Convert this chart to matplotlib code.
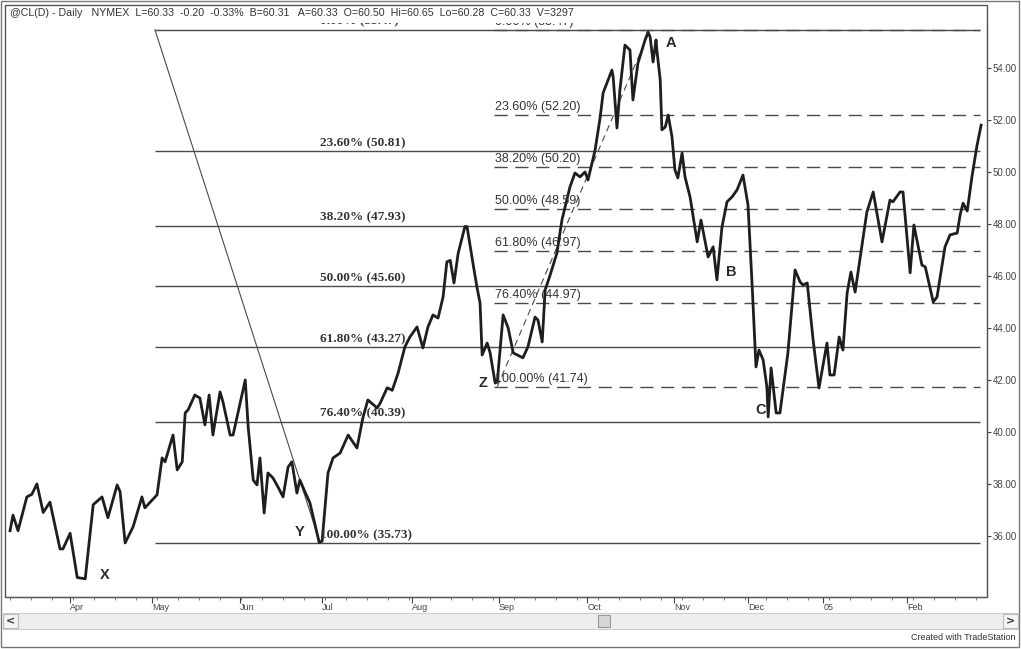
import matplotlib
matplotlib.use('Agg')
import matplotlib.pyplot as plt
from matplotlib.patches import Rectangle

# daily crude (bar index = trading day since mid March 2004)
bars = [0.0, 0.7, 1.9, 4.0, 5.2, 6.4, 7.9, 9.5, 11.9, 12.6, 14.3, 16.0, 17.9, 19.8,
        21.9, 23.3, 25.5, 26.2, 27.4, 29.3, 31.4, 32.1, 35.0, 36.2, 36.9, 38.8,
        39.8, 41.0, 41.7, 42.4, 44.0, 45.2, 46.4, 47.4, 48.3, 50.0, 50.7, 52.4,
        53.1, 56.0, 56.7, 57.9, 58.8, 59.5, 60.5, 61.4, 62.6, 63.8, 65.0, 66.2,
        67.1, 68.3, 69.0, 70.2, 71.4, 73.6, 74.3, 75.7, 76.9, 78.6, 80.5, 82.6,
        84.0, 85.2, 87.4, 88.1, 89.8, 91.0, 92.4, 94.0, 95.2, 96.9, 98.3, 99.5,
        100.7, 101.9, 103.1, 104.0, 104.8, 105.7, 106.7, 108.3, 108.8, 110.2,
        111.2, 111.9, 112.4, 113.6, 114.3, 115.5, 116.0, 117.4, 118.6, 119.8,
        122.1, 123.3, 125.0, 125.7, 126.7, 127.4, 128.6, 130.2, 131.4, 133.3,
        134.5, 135.7, 136.9, 137.6, 139.3, 140.5, 141.2, 143.3, 143.6, 144.5,
        145.2, 146.4, 147.6, 148.3, 149.5, 151.2, 151.9, 152.4, 153.1, 153.8,
        154.0, 154.8, 155.2, 156.0, 156.7, 157.6, 158.3, 159.0, 160.0, 160.7,
        161.9, 163.6, 164.5, 166.2, 167.4, 168.3, 169.5, 170.7, 171.9, 173.1,
        174.5, 175.7, 176.7, 177.6, 178.3, 179.3, 180.2, 180.5, 181.2, 181.7,
        182.4, 183.3, 185.2, 186.9, 188.1, 188.8, 189.8, 191.2, 192.6, 194.5,
        195.2, 196.2, 197.4, 198.3, 199.3, 200.2, 201.2, 204.0, 205.5, 207.6,
        209.5, 210.2, 211.9, 212.6, 214.3, 215.2, 217.1, 217.9, 219.8, 220.7,
        222.6, 223.8, 225.5, 226.2, 226.9, 227.9, 229.0, 230.2, 231.2]
closes = [36.2, 36.8, 36.2, 37.5, 37.6, 38.0, 36.9, 37.3, 35.5, 35.5, 36.1, 34.4, 34.35, 37.2,
          37.5, 36.7, 37.96, 37.7, 35.73, 36.35, 37.5, 37.08, 37.58, 39.0, 38.85, 39.88,
          38.54, 38.85, 40.73, 40.85, 41.42, 41.3, 40.27, 41.42, 39.88, 41.54, 41.15, 39.88,
          39.88, 42.0, 40.19, 38.15, 37.96, 39.0, 36.88, 38.42, 38.23, 37.88, 37.5, 38.65,
          38.85, 37.65, 38.15, 37.7, 37.27, 35.75, 35.8, 38.42, 39.0, 39.19, 39.88, 39.38,
          40.54, 41.23, 40.92, 41.1, 41.7, 41.6, 42.27, 43.27, 43.65, 44.04, 43.23, 44.04,
          44.5, 44.38, 45.19, 46.54, 46.6, 45.73, 46.88, 47.9, 47.9, 46.5,
          45.54, 44.96, 42.96, 43.42, 43.04, 41.88, 41.92, 44.5, 44.0, 43.04,
          42.85, 43.27, 44.42, 44.3, 43.46, 45.46, 46.04, 46.88, 48.15, 49.42,
          49.96, 49.81, 50.0, 49.69, 50.85, 52.1, 53.04, 53.92, 53.65, 51.69,
          53.15, 54.88, 54.69, 52.77, 54.19, 55.08, 55.38, 55.19, 54.23, 55.08,
          54.69, 53.54, 51.62, 51.73, 52.19, 51.35, 50.08, 49.77, 50.73, 49.81,
          49.04, 47.31, 48.15, 46.73, 47.12, 45.85, 47.88, 48.85, 49.04, 49.31,
          49.88, 48.73, 45.58, 42.5, 43.15, 42.77, 41.73, 40.58, 42.46, 41.73,
          40.73, 40.73, 43.04, 46.23, 45.77, 45.65, 45.73, 43.54, 41.69, 43.42,
          42.19, 42.19, 43.65, 43.15, 45.35, 46.15, 45.38, 48.46, 49.23, 47.31,
          48.92, 48.85, 49.23, 49.23, 46.12, 47.96, 46.42, 46.35, 45.0, 45.19,
          47.12, 47.58, 47.65, 48.35, 48.8, 48.5, 49.8, 51.0, 51.8]

month_names = ['Apr', 'May', 'Jun', 'Jul', 'Aug', 'Sep', 'Oct', 'Nov', 'Dec', '05', 'Feb']
month_bars = [14.3, 33.8, 54.8, 74.3, 95.7, 116.4, 137.4, 158.1, 175.7, 193.6, 213.6]

fib_pct = [0.0, 23.6, 38.2, 50.0, 61.8, 76.4, 100.0]
fib1_val = [55.47, 50.81, 47.93, 45.60, 43.27, 40.39, 35.73]   # Y swing
fib2_val = [55.47, 52.20, 50.20, 48.59, 46.97, 44.97, 41.74]   # Z -> A swing

wave_names = ['X', 'Y', 'Z', 'A', 'B', 'C']
wave_bars = [22.6, 69.0, 112.6, 157.4, 171.7, 178.6]
wave_vals = [34.5, 36.15, 41.88, 54.96, 46.15, 40.85]

header = ('@CL(D) - Daily   NYMEX  L=60.33  -0.20  -0.33%  B=60.31   A=60.33  O=60.50  '
          'Hi=60.65  Lo=60.28  C=60.33  V=3297')

W, H = 1021, 649


def fx(px):
    return px / W


def fy(py):
    return 1 - py / H


fig = plt.figure(figsize=(W / 100, H / 100), dpi=100)
ax = fig.add_axes([fx(5), fy(597), fx(987) - fx(5), fy(23) - fy(597)])
ax.set_xlim(-1.2, 232.6)
ax.set_ylim(33.65, 55.73)

line_col = '#4a4a4a'
# fib tool 1 (solid, bold labels)
ax.hlines(fib1_val, 34.5, 231.0, color=line_col, lw=1.0)
ax.plot([34.5, 73.8], [fib1_val[0], fib1_val[-1]], color=line_col, lw=0.8)
for p, v in zip(fib_pct, fib1_val):
    ax.text(73.8, v + 0.08, f'{p:.2f}% ({v:.2f})', fontfamily='Liberation Serif',
            fontweight='bold', fontsize=9.5, color='#333333', va='bottom', clip_on=True)

# fib tool 2 (dashed)
ax.hlines(fib2_val, 115.3, 231.0, color=line_col, lw=1.0, linestyles=[(0, (9.5, 5.5))])
ax.plot([116.0, 152.4], [fib2_val[-1], fib2_val[0]], color=line_col, lw=0.8,
        ls=(0, (6, 4)))
for p, v in zip(fib_pct, fib2_val):
    ax.text(115.5, v + 0.08, f'{p:.2f}% ({v:.2f})', fontfamily='Liberation Sans',
            fontsize=9, color='#333333', va='bottom', clip_on=True)

ax.plot(bars, closes, color='#1e1e1e', lw=2.0, solid_joinstyle='round')

for n, b, v in zip(wave_names, wave_bars, wave_vals):
    ax.text(b, v, n, fontfamily='Liberation Sans', fontweight='bold', fontsize=10.5,
            color='#2a2a2a', ha='center', va='center')

# axes look
for s in ['top', 'left']:
    ax.spines[s].set_visible(False)
ax.spines['right'].set_color('#555555')
ax.spines['bottom'].set_color('#555555')
ax.yaxis.tick_right()
ax.set_yticks(range(36, 55, 2))
ax.set_yticklabels([f'{v:.2f}' for v in range(36, 55, 2)])
ax.tick_params(axis='y', length=3, width=0.8, pad=1, labelsize=7,
               colors='#444444', labelfontfamily='Liberation Sans')
ax.set_xticks(month_bars)
ax.set_xticklabels(month_names, ha='left')
ax.set_xticks([b for b in range(0, 232, 5)], minor=True)
ax.tick_params(axis='x', which='major', length=4, width=0.8, pad=0, labelsize=6.5,
               colors='#444444', labelfontfamily='Liberation Sans')
ax.tick_params(axis='x', which='minor', length=2.5, width=0.6, colors='#666666')

# frames
fig.patches.append(Rectangle((fx(5), fy(597)), fx(987) - fx(5), fy(5) - fy(597),
                             transform=fig.transFigure, fill=False, ec='#555555', lw=1))
fig.patches.append(Rectangle((fx(1), fy(647)), fx(1019) - fx(1), fy(1) - fy(647),
                             transform=fig.transFigure, fill=False, ec='#777777', lw=1))
fig.text(fx(10), fy(13), header, fontfamily='Liberation Sans', fontsize=7.7,
         color='#333333', va='center')

# scroll bar
fig.patches.append(Rectangle((fx(3), fy(629)), fx(1018) - fx(3), fy(613) - fy(629),
                             transform=fig.transFigure, fc='#eeeeee', ec='#cccccc', lw=0.8))
for x0 in [3, 1003]:
    fig.patches.append(Rectangle((fx(x0), fy(628)), fx(15), fy(614) - fy(628),
                                 transform=fig.transFigure, fc='#f4f4f4', ec='#bbbbbb', lw=0.8))
fig.text(fx(10.5), fy(621), '<', fontsize=8, fontweight='bold', color='#333333',
         ha='center', va='center')
fig.text(fx(1010.5), fy(621), '>', fontsize=8, fontweight='bold', color='#333333',
         ha='center', va='center')
fig.patches.append(Rectangle((fx(598), fy(627)), fx(12), fy(615) - fy(627),
                             transform=fig.transFigure, fc='#d6d6d6', ec='#999999', lw=0.8))
fig.text(fx(1015), fy(638), 'Created with TradeStation', fontfamily='Liberation Sans',
         fontsize=6.5, color='#333333', ha='right', va='center')

fig.savefig('out.png', dpi=100, facecolor='white')
